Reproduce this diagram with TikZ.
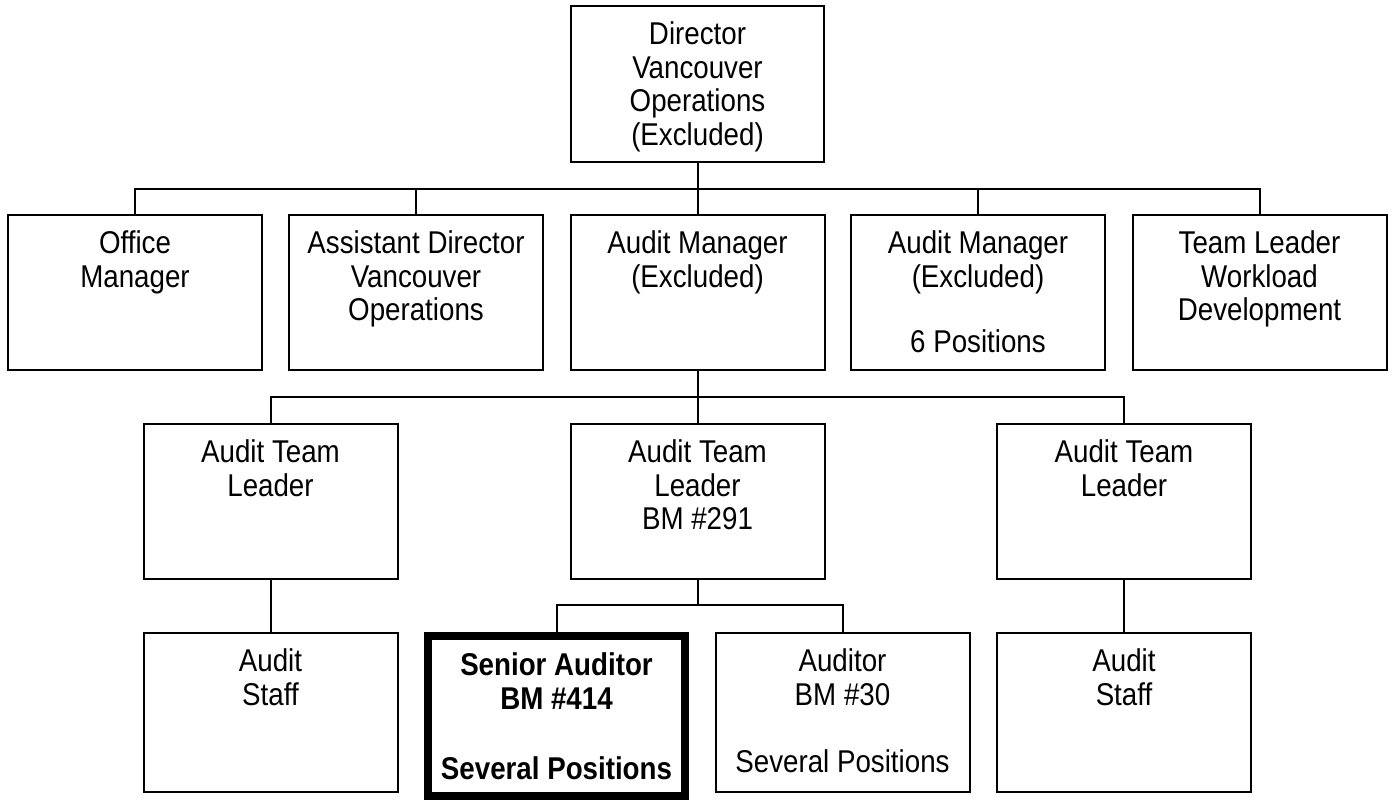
\documentclass[tikz,border=0pt]{standalone}
\usepackage{fontspec}
\setmainfont{Liberation Sans}[FakeStretch=0.88]
\usetikzlibrary{positioning}
\newcommand\orgstrut{\rule{0pt}{25pt}}
\newcommand\orgfont{\fontsize{31.5}{33.6}\selectfont\lineskiplimit=-50pt\relax}
\begin{document}
\begin{tikzpicture}[x=1pt,y=1pt,
  box/.style={draw, line width=2pt, inner sep=0pt, minimum width=254pt, minimum height=155pt},
  txt/.style={align=center, inner sep=0pt, anchor=north, font=\orgfont},
  conn/.style={line width=2pt}]
\path[fill=white] (0,0) rectangle (1395,-801);
\useasboundingbox (0,0) rectangle (1395,-801);

% top
\node[box, minimum width=253pt, minimum height=156pt] (dir) at (697.5,-84) {};
\node[txt, below=14.25pt of dir.north] (dirt) {\orgstrut Director\\Vancouver\\Operations\\(Excluded)};

% row 2
\node[box] (office) at (135,-292.5) {};
\node[box] (asst)   at (416,-292.5) {};
\node[box] (am)     at (697.5,-292.5) {};
\node[box] (amsix)  at (978,-292.5) {};
\node[box] (tl)     at (1259.5,-292.5) {};
\node[txt, below=14.25pt of office.north] (officet) {\orgstrut Office\\Manager};
\node[txt, below=14.25pt of asst.north] (asstt) {\orgstrut Assistant Director\\Vancouver\\Operations};
\node[txt, below=14.25pt of am.north] (amt) {\orgstrut Audit Manager\\(Excluded)};
\node[txt, below=14.25pt of amsix.north] (amsixt) {\orgstrut Audit Manager\\(Excluded)\\[32pt]6 Positions};
\node[txt, below=14.25pt of tl.north] (tlt) {\orgstrut Team Leader\\Workload\\Development};

% row 3
\node[box] (atla) at (270.5,-501.5) {};
\node[box] (atlb) at (697.5,-501.5) {};
\node[box] (atlc) at (1124,-501.5) {};
\node[txt, below=14.25pt of atla.north] (atlat) {\orgstrut Audit Team\\Leader};
\node[txt, below=14.25pt of atlb.north] (atlbt) {\orgstrut Audit Team\\Leader\\BM \#291};
\node[txt, below=14.25pt of atlc.north] (atlct) {\orgstrut Audit Team\\Leader};

% row 4
\node[box, minimum height=159pt] (staffa) at (270.5,-712.5) {};
\node[box, minimum width=257pt, minimum height=160pt, line width=7.5pt] (senior) at (556.5,-716) {};
\node[box, minimum height=159pt] (auditor) at (842.5,-712.5) {};
\node[box, minimum height=159pt] (staffb) at (1124,-712.5) {};
\node[txt, below=14.25pt of staffa.north] (staffat) {\orgstrut Audit\\Staff};
\node[txt, below=18pt of senior.north, font=\orgfont\bfseries] (seniort) {\orgstrut Senior Auditor\\BM \#414\\[37pt]Several Positions};
\node[txt, below=14.25pt of auditor.north] (auditort) {\orgstrut Auditor\\BM \#30\\[34pt]Several Positions};
\node[txt, below=14.25pt of staffb.north] (staffbt) {\orgstrut Audit\\Staff};

% connectors
\coordinate (busa) at (697.5,-189);
\coordinate (busb) at (697.5,-397);
\coordinate (busc) at (697.5,-605);
\draw[conn] (dir.south) -- (busa);
\draw[conn] (busa) -| (office.north);
\draw[conn] (busa) -| (asst.north);
\draw[conn] (busa) -- (am.north);
\draw[conn] (busa) -| (amsix.north);
\draw[conn] (busa) -| (tl.north);
\draw[conn] (am.south) -- (busb);
\draw[conn] (busb) -| (atla.north);
\draw[conn] (busb) -- (atlb.north);
\draw[conn] (busb) -| (atlc.north);
\draw[conn] (atlb.south) -- (busc);
\draw[conn] (busc) -| (senior.north);
\draw[conn] (busc) -| (auditor.north);
\draw[conn] (atla.south) -- (staffa.north);
\draw[conn] (atlc.south) -- (staffb.north);
\end{tikzpicture}
\end{document}
